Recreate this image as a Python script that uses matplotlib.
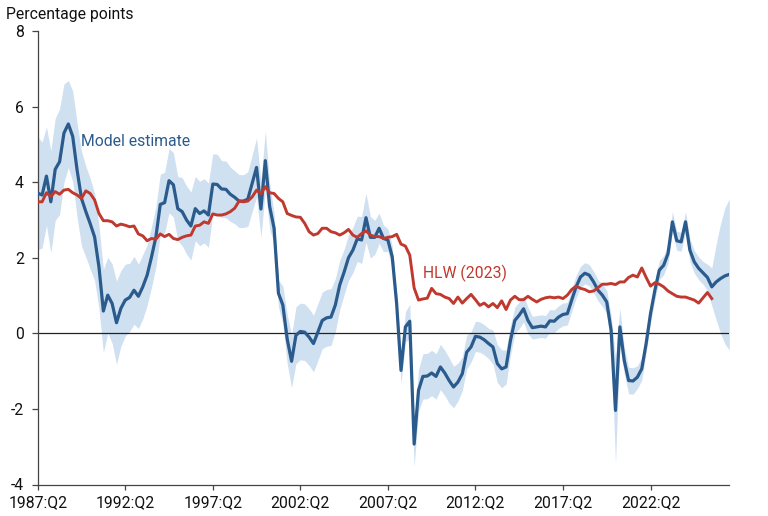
import matplotlib
matplotlib.use("Agg")
import matplotlib.pyplot as plt
import numpy as np

plt.rcParams['font.family'] = ['Roboto', 'DejaVu Sans']
plt.rcParams['axes.unicode_minus'] = False

# Quarterly index 0 = 1987:Q2
tick_pos = [0, 20, 40, 60, 80, 100, 120, 140]
tick_labels = ['1987:Q2', '1992:Q2', '1997:Q2', '2002:Q2', '2007:Q2', '2012:Q2', '2017:Q2', '2022:Q2']

model_estimate = [
    3.71, 3.66, 4.16, 3.48, 4.34, 4.54, 5.30, 5.54, 5.21, 4.32,
    3.57, 3.22, 2.90, 2.55, 1.75, 0.59, 1.01, 0.79, 0.28, 0.66,
    0.88, 0.95, 1.14, 0.98, 1.23, 1.54, 2.02, 2.55, 3.41, 3.46,
    4.04, 3.93, 3.30, 3.22, 3.00, 2.84, 3.30, 3.17, 3.24, 3.13,
    3.95, 3.94, 3.82, 3.81, 3.68, 3.60, 3.50, 3.50, 3.55, 3.97,
    4.39, 3.29, 4.57, 3.35, 2.78, 1.06, 0.75, -0.15, -0.74, -0.05,
    0.05, 0.03, -0.10, -0.27, 0.03, 0.34, 0.41, 0.43, 0.75, 1.28,
    1.62, 2.00, 2.20, 2.50, 2.47, 3.06, 2.54, 2.54, 2.78, 2.51,
    2.47, 2.02, 0.79, -0.98, 0.17, 0.32, -2.93, -1.51, -1.14, -1.13,
    -1.05, -1.14, -0.89, -1.05, -1.25, -1.42, -1.29, -1.07, -0.50, -0.36,
    -0.08, -0.10, -0.17, -0.27, -0.36, -0.80, -0.94, -0.89, -0.19, 0.34,
    0.48, 0.65, 0.34, 0.15, 0.17, 0.19, 0.17, 0.33, 0.32, 0.43,
    0.50, 0.52, 0.88, 1.23, 1.49, 1.59, 1.54, 1.36, 1.14, 1.01,
    0.83, 0.08, -2.04, 0.17, -0.72, -1.25, -1.26, -1.16, -0.94, -0.27,
    0.52, 1.14, 1.67, 1.80, 2.11, 2.95, 2.45, 2.42, 2.95, 2.20,
    1.89, 1.72, 1.60, 1.48, 1.23, 1.36, 1.45, 1.52, 1.56,
]

band_half_width = [
    1.50, 1.40, 1.30, 1.35, 1.35, 1.40, 1.30, 1.15, 1.20, 1.25,
    1.25, 1.20, 1.20, 1.15, 1.10, 1.10, 1.00, 1.05, 1.10, 1.00,
    0.95, 0.90, 0.90, 0.85, 0.85, 0.80, 0.80, 0.80, 0.80, 0.80,
    0.85, 0.85, 0.85, 0.90, 0.90, 0.90, 0.85, 0.85, 0.85, 0.85,
    0.80, 0.80, 0.75, 0.75, 0.72, 0.70, 0.70, 0.70, 0.72, 0.75,
    0.78, 0.75, 0.78, 0.60, 0.40, 0.35, 0.50, 0.65, 0.70, 0.75,
    0.75, 0.75, 0.75, 0.75, 0.75, 0.75, 0.75, 0.75, 0.70, 0.65,
    0.60, 0.60, 0.60, 0.60, 0.62, 0.65, 0.55, 0.45, 0.40, 0.35,
    0.30, 0.30, 0.30, 0.35, 0.40, 0.45, 0.60, 0.55, 0.60, 0.60,
    0.60, 0.60, 0.60, 0.60, 0.60, 0.55, 0.50, 0.45, 0.45, 0.40,
    0.40, 0.40, 0.40, 0.40, 0.45, 0.50, 0.50, 0.45, 0.40, 0.35,
    0.35, 0.35, 0.35, 0.30, 0.30, 0.30, 0.30, 0.30, 0.30, 0.30,
    0.30, 0.30, 0.30, 0.30, 0.28, 0.28, 0.28, 0.28, 0.28, 0.30,
    0.30, 0.40, 1.40, 0.50, 0.35, 0.35, 0.35, 0.30, 0.30, 0.25,
    0.25, 0.25, 0.25, 0.25, 0.25, 0.27, 0.25, 0.25, 0.27, 0.30,
    0.30, 0.30, 0.30, 0.35, 0.50, 1.00, 1.45, 1.80, 2.00,
]

hlw_2023 = [
    3.48, 3.48, 3.72, 3.62, 3.75, 3.68, 3.79, 3.81, 3.72, 3.66,
    3.57, 3.77, 3.70, 3.53, 3.17, 2.98, 2.98, 2.95, 2.84, 2.89,
    2.86, 2.82, 2.84, 2.63, 2.58, 2.45, 2.51, 2.49, 2.63, 2.56,
    2.62, 2.51, 2.48, 2.54, 2.58, 2.60, 2.84, 2.86, 2.95, 2.91,
    3.16, 3.13, 3.13, 3.16, 3.22, 3.31, 3.50, 3.48, 3.50, 3.61,
    3.79, 3.69, 3.88, 3.72, 3.70, 3.57, 3.48, 3.17, 3.12, 3.08,
    3.07, 2.91, 2.69, 2.60, 2.64, 2.78, 2.78, 2.69, 2.66, 2.60,
    2.66, 2.75, 2.60, 2.54, 2.64, 2.71, 2.60, 2.56, 2.56, 2.51,
    2.54, 2.56, 2.62, 2.36, 2.31, 2.07, 1.20, 0.88, 0.91, 0.93,
    1.19, 1.05, 1.03, 0.96, 0.92, 0.79, 0.96, 0.80, 0.92, 1.03,
    0.89, 0.74, 0.80, 0.70, 0.79, 0.68, 0.86, 0.63, 0.88, 0.98,
    0.89, 0.89, 0.98, 0.90, 0.83, 0.90, 0.94, 0.96, 0.94, 0.96,
    0.92, 1.01, 1.16, 1.25, 1.19, 1.16, 1.10, 1.12, 1.21, 1.30,
    1.30, 1.32, 1.29, 1.36, 1.36, 1.48, 1.54, 1.49, 1.73, 1.48,
    1.25, 1.34, 1.30, 1.23, 1.12, 1.05, 0.98, 0.96, 0.96, 0.92,
    0.88, 0.80, 0.94, 1.08, 0.92,
]

BLUE = '#2a5b8c'
BAND = '#cfe0f1'
RED = '#c0392e'
FS = 11.3

est = np.array(model_estimate)
half = np.array(band_half_width)
x_est = np.arange(len(est))
x_hlw = np.arange(len(hlw_2023))

fig = plt.figure(figsize=(7.68, 5.16), dpi=100)
ax = fig.add_axes([37.7 / 768, 1 - 484.5 / 516, (729.3 - 37.7) / 768, (484.5 - 31) / 516])

ax.fill_between(x_est, est - half, est + half, color=BAND, lw=0, zorder=1)
ax.axhline(0, color='#222222', lw=0.9, zorder=2)
ax.plot(x_est, est, color=BLUE, lw=2.3, zorder=3, solid_joinstyle='round')
ax.plot(x_hlw, hlw_2023, color=RED, lw=2.1, zorder=4, solid_joinstyle='round')

ax.set_xlim(0, 158)
ax.set_ylim(-4, 8)
ax.set_yticks([-4, -2, 0, 2, 4, 6, 8])
ax.set_xticks(tick_pos)
ax.set_xticklabels(tick_labels)

for s in ['top', 'right']:
    ax.spines[s].set_visible(False)
for s in ['left', 'bottom']:
    ax.spines[s].set_color('#444444')
    ax.spines[s].set_linewidth(0.9)

ax.tick_params(axis='y', length=4, width=0.9, color='#444444', pad=6, labelsize=FS, labelcolor='#111111')
ax.tick_params(axis='x', length=3.5, width=0.9, color='#444444', pad=4, labelsize=FS, labelcolor='#111111')

ax.text(9.9, 5.08, 'Model estimate', color=BLUE, fontsize=FS, ha='left', va='center')
ax.text(88.0, 1.59, 'HLW (2023)', color=RED, fontsize=FS, ha='left', va='center')

fig.text(6 / 768, 1 - 15 / 516, 'Percentage points', fontsize=FS, ha='left', va='center', color='#111111')

fig.savefig('out.png', dpi=100)
